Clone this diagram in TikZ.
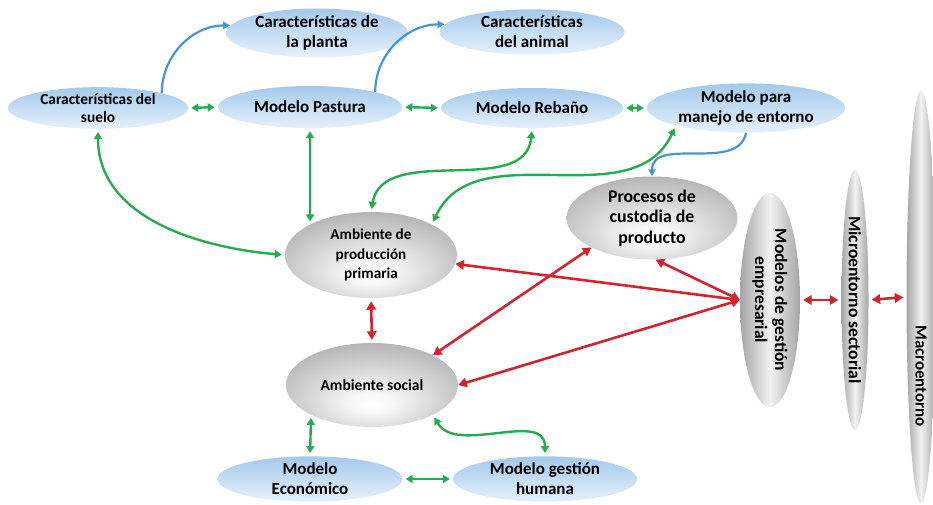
\documentclass[tikz,border=0pt]{standalone}
\usepackage{fontspec}
\setmainfont{Carlito}
\usetikzlibrary{arrows.meta,shapes.geometric}
\definecolor{bluetop}{RGB}{164,201,235}
\definecolor{bluebot}{RGB}{230,241,251}
\definecolor{grayedge}{RGB}{150,150,150}
\definecolor{grayside}{RGB}{165,165,165}
\definecolor{graymid}{RGB}{242,242,242}
\definecolor{arrgreen}{RGB}{38,172,78}
\definecolor{arrred}{RGB}{210,36,44}
\definecolor{arrblue}{RGB}{70,150,215}
\pgfdeclareradialshading{grayrad}{\pgfpoint{0bp}{-12bp}}{color(0bp)=(white); color(6bp)=(white!97!black); color(40bp)=(black!38); color(64bp)=(black!46)}
\begin{document}
\begin{tikzpicture}[x=1pt,y=1pt,
  bnode/.style={ellipse, inner sep=0pt, draw=none, top color=bluetop, bottom color=bluebot,
    align=center, font=\bfseries\fontsize{17}{20}\selectfont},
  gnode/.style={ellipse, inner sep=0pt, draw=none, shading=grayrad,
    align=center, font=\bfseries\fontsize{15.5}{20}\selectfont},
  vnode/.style={ellipse, inner sep=0pt, draw=none, left color=grayside, right color=grayside, middle color=graymid,
    align=center},
  garr/.style={draw=arrgreen, line width=2.4pt, {Triangle[length=7pt,width=8pt]}-{Triangle[length=7pt,width=8pt]}},
  rarr/.style={draw=arrred, line width=2.6pt, {Triangle[length=8.5pt,width=9.5pt]}-{Triangle[length=8.5pt,width=9.5pt]}},
  barr/.style={draw=arrblue, line width=2.2pt, -{Triangle[length=7pt,width=7pt]}},
  gap/.style={shorten <=3pt, shorten >=3pt}
]
\useasboundingbox (0,0) rectangle (933,-505);

% blue nodes
\node[bnode, minimum width=180, minimum height=40, font=\bfseries\fontsize{15.4}{18.5}\selectfont] (suelo) at (98,-108) {Características del\\suelo};
\node[bnode, minimum width=184, minimum height=42] (pastura) at (310,-107) {Modelo Pastura};
\node[bnode, minimum width=182, minimum height=40] (planta) at (317,-33) {Características de\\la planta};
\node[bnode, minimum width=185, minimum height=40] (animal) at (532,-32) {Características\\del animal};
\node[bnode, minimum width=182, minimum height=40] (rebano) at (532,-108) {Modelo Rebaño};
\node[bnode, minimum width=198, minimum height=42] (manejo) at (746,-108) {Modelo para\\manejo de entorno};
\node[bnode, minimum width=185, minimum height=42] (economico) at (310,-479) {Modelo\\Económico};
\node[bnode, minimum width=184, minimum height=42] (humana) at (545,-479) {Modelo gestión\\humana};

% gray nodes
\node[gnode, minimum width=171, minimum height=83, font=\bfseries\fontsize{17.8}{20.5}\selectfont] (procesos) at (652,-218) {Procesos de\\custodia de\\producto};
\node[gnode, minimum width=172, minimum height=86, font=\bfseries\fontsize{15.2}{19.5}\selectfont] (ambprod) at (371,-255) {Ambiente de\\producción\\primaria};
\node[gnode, minimum width=172, minimum height=84] (social) at (372,-385) {Ambiente social};

% vertical nodes
\node[vnode, minimum width=60, minimum height=214] (gestion) at (770,-300) {};
\node[rotate=-90, align=center, font=\bfseries\fontsize{17.5}{20}\selectfont] (gestiontxt) at (gestion.center) {Modelos de gestión\\empresarial};
\node[vnode, minimum width=27, minimum height=260] (micro) at (855,-300) {};
\node[rotate=-90, font=\bfseries\fontsize{17.6}{20}\selectfont] (microtxt) at (micro.center) {Microentorno sectorial};
\node[vnode, minimum width=29, minimum height=413] (macro) at (921,-297) {};
\node[rotate=-90, font=\bfseries\fontsize{16.9}{20}\selectfont] (macrotxt) at (921,-376) {Macroentorno};

% blue arrows
\draw[barr] (suelo.north east) to[out=90,in=180] (planta.175);
\draw[barr] (pastura.north east) to[out=90,in=180] (animal.175);
\draw[barr] (manejo.south) to[out=-100,in=90] (procesos.north);

% green arrows
\draw[garr,gap] (suelo.east) -- (pastura.west);
\draw[garr,gap] (pastura.east) -- (rebano.west);
\draw[garr,gap] (rebano.east) -- (manejo.west);
\draw[garr,gap] (pastura.south) -- (ambprod.north west);
\draw[garr,gap] (suelo.south) to[out=-90,in=175] (ambprod.west);
\draw[garr,gap] (rebano.south) to[out=-95,in=80] (ambprod.north);
\draw[garr,gap] (manejo.south west) to[out=-115,in=65] (ambprod.north east);
\draw[garr,gap] (social.south west) -- (economico.north);
\draw[garr,gap] (social.south east) to[out=-60,in=90] (humana.north);
\draw[garr,gap] (economico.east) -- (humana.west);

% red arrows
\draw[rarr,gap] (ambprod.south) -- (social.north);
\draw[rarr] (gestion.west) -- (ambprod.-6);
\draw[rarr] (gestion.west) -- (procesos.-85);
\draw[rarr] (gestion.west) -- (social.east);
\draw[rarr] (social.north east) -- (procesos.south west);
\draw[rarr,gap] (gestion.east) -- (micro.west);
\draw[rarr,gap] (micro.east) -- (macro.west);
\end{tikzpicture}
\end{document}
